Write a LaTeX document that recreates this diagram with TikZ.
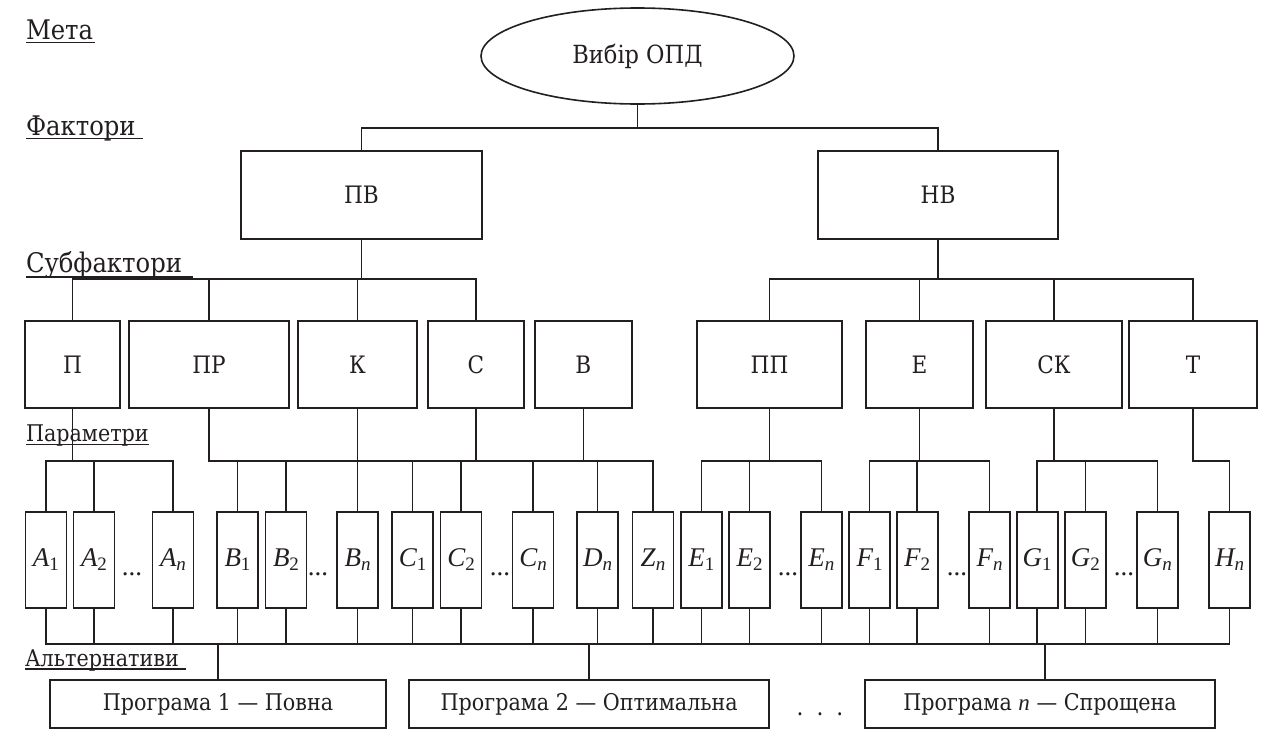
\documentclass[tikz,border=0pt]{standalone}
\usepackage{fontspec}
\setmainfont{DejaVu Serif Condensed}
\newfontfamily\tms{Liberation Serif}
\usetikzlibrary{shapes.geometric}
\definecolor{ink}{HTML}{231F20}
\newcommand\pl[2]{{\itshape #1}{\fontsize{19}{19}\selectfont\raisebox{-4pt}{#2}}}
\begin{document}
\begin{tikzpicture}[x=1pt,y=-1pt,
  every node/.style={inner sep=0pt, outer sep=0pt, text=ink},
  ln/.style={line width=1.6pt, draw=ink, line cap=rect},
  box/.style={draw=ink, line width=1.6pt, rectangle, font=\fontsize{24}{24}\selectfont},
  sbox/.style={box, minimum height=87pt},
  fbox/.style={box, minimum height=88pt},
  pbox/.style={box, minimum width=41pt, minimum height=96pt, font=\tms\fontsize{27}{27}\selectfont},
  prbox/.style={box, minimum height=48pt, font=\fontsize{23}{23}\selectfont},
  pdots/.style={anchor=base, font=\tms\fontsize{27}{27}\selectfont},
  lvl/.style={anchor=base west, font=\fontsize{27}{27}\selectfont},
  lvls/.style={anchor=base west, font=\fontsize{23}{23}\selectfont},
  ul/.style={line width=1.6pt, draw=ink}
]
\fill[white] (0,0) rectangle (1261,736);
\useasboundingbox (0,0) rectangle (1261,736);

% level labels
\node[lvl] (lm) at (26,39.5) {Мета};
\node[lvl] (lf) at (26,135) {Фактори};
\node[lvl] (ls) at (26,272) {Субфактори};
\node[lvls] (lp) at (26,441) {Параметри};
\node[lvls] (la) at (25,666) {Альтернативи};
\draw[ul] ([yshift=-3pt]lm.base west) -- ++(69,0);
\draw[ul] ([yshift=-3.5pt]lf.base west) -- ++(117,0);
\draw[ul] ([yshift=-5pt]ls.base west) -- ++(167,0);
\draw[ul] ([yshift=-3.5pt]lp.base west) -- ++(123,0);
\draw[ul] ([yshift=-3pt]la.base west) -- ++(161,0);

% goal
\node[draw=ink, line width=1.6pt, ellipse, minimum width=313pt, minimum height=96pt,
      font=\fontsize{25}{25}\selectfont] (goal) at (637.5,56) {Вибір ОПД};

% factors
\node[fbox, minimum width=241pt] (PV) at (361.5,195) {ПВ};
\node[fbox, minimum width=240pt] (NV) at (938,195) {НВ};

% subfactors
\node[sbox, minimum width=95pt]  (P)  at (72.5,364.5) {П};
\node[sbox, minimum width=160pt] (PR) at (209,364.5) {ПР};
\node[sbox, minimum width=119pt] (K)  at (357.5,364.5) {К};
\node[sbox, minimum width=96pt]  (S)  at (476,364.5) {С};
\node[sbox, minimum width=97pt]  (B)  at (583.3,364.5) {В};
\node[sbox, minimum width=145pt] (PP) at (769.5,364.5) {ПП};
\node[sbox, minimum width=107pt] (E)  at (919.5,364.5) {Е};
\node[sbox, minimum width=136pt] (SK) at (1054,364.5) {СК};
\node[sbox, minimum width=128pt] (T)  at (1193,364.5) {Т};

% parameters
\node[pbox] (A1) at (45.8,560) {\pl{A}{1}};
\node[pbox] (A2) at (94,560) {\pl{A}{2}};
\node[pbox] (An) at (173,560) {\pl{A}{\itshape n}};
\node[pbox] (B1) at (237.5,560) {\pl{B}{1}};
\node[pbox] (B2) at (286,560) {\pl{B}{2}};
\node[pbox] (Bn) at (357.5,560) {\pl{B}{\itshape n}};
\node[pbox] (C1) at (412.5,560) {\pl{C}{1}};
\node[pbox] (C2) at (461,560) {\pl{C}{2}};
\node[pbox] (Cn) at (533,560) {\pl{C}{\itshape n}};
\node[pbox] (Dn) at (597.5,560) {\pl{D}{\itshape n}};
\node[pbox] (Zn) at (653,560) {\pl{Z}{\itshape n}};
\node[pbox] (E1) at (701.3,560) {\pl{E}{1}};
\node[pbox] (E2) at (749.5,560) {\pl{E}{2}};
\node[pbox] (En) at (821.3,560) {\pl{E}{\itshape n}};
\node[pbox] (F1) at (869.5,560) {\pl{F}{1}};
\node[pbox] (F2) at (917.2,560) {\pl{F}{2}};
\node[pbox] (Fn) at (989.5,560) {\pl{F}{\itshape n}};
\node[pbox] (G1) at (1037.2,560) {\pl{G}{1}};
\node[pbox] (G2) at (1085.3,560) {\pl{G}{2}};
\node[pbox] (Gn) at (1157.3,560) {\pl{G}{\itshape n}};
\node[pbox] (Hn) at (1229.5,560) {\pl{H}{\itshape n}};

\node[pdots] (dA) at (132,575) {...};
\node[pdots] (dB) at (318,575) {...};
\node[pdots] (dC) at (500,575) {...};
\node[pdots] (dE) at (788,575) {...};
\node[pdots] (dF) at (957,575) {...};
\node[pdots] (dG) at (1124,575) {...};

% programs
\node[prbox, minimum width=336pt] (pr1) at (218,704) {Програма 1 — Повна};
\node[prbox, minimum width=360pt] (pr2) at (589.2,704) {Програма 2 — Оптимальна};
\node[prbox, minimum width=350pt] (pr3) at (1040,704) {Програма {\tms\itshape n} — Спрощена};
\node[anchor=base, font=\fontsize{24}{24}\selectfont] (pdots) at (820,715) {.\hspace{13pt}.\hspace{13pt}.};

% bus levels
\coordinate (yF) at (0,128);
\coordinate (yS) at (0,279);
\coordinate (yP) at (0,461);
\coordinate (yB) at (0,644);

% goal -> factors
\draw[ln] (goal.south) -- (goal.south |- yF);
\draw[ln] (PV.north) -- (PV.north |- yF) -- (NV.north |- yF) -- (NV.north);

% factors -> subfactors
\draw[ln] (PV.south) -- (PV.south |- yS);
\draw[ln] (P.north) -- (P.north |- yS) -- (S.north |- yS) -- (S.north);
\foreach \n in {PR,K} \draw[ln] (\n.north) -- (\n.north |- yS);
\draw[ln] (NV.south) -- (NV.south |- yS);
\draw[ln] (PP.north) -- (PP.north |- yS) -- (T.north |- yS) -- (T.north);
\foreach \n in {E,SK} \draw[ln] (\n.north) -- (\n.north |- yS);

% subfactors -> parameters
\draw[ln] (P.south) -- (P.south |- yP);
\draw[ln] (A1.north) -- (A1.north |- yP) -- (An.north |- yP) -- (An.north);
\draw[ln] (A2.north) -- (A2.north |- yP);
\draw[ln] (PR.south) -- (PR.south |- yP) -- (Zn.north |- yP) -- (Zn.north);
\foreach \n in {K,S,B} \draw[ln] (\n.south) -- (\n.south |- yP);
\foreach \n in {B1,B2,Bn,C1,C2,Cn,Dn} \draw[ln] (\n.north) -- (\n.north |- yP);
\draw[ln] (PP.south) -- (PP.south |- yP);
\draw[ln] (E1.north) -- (E1.north |- yP) -- (En.north |- yP) -- (En.north);
\draw[ln] (E2.north) -- (E2.north |- yP);
\draw[ln] (E.south) -- (E.south |- yP);
\draw[ln] (F1.north) -- (F1.north |- yP) -- (Fn.north |- yP) -- (Fn.north);
\draw[ln] (F2.north) -- (F2.north |- yP);
\draw[ln] (SK.south) -- (SK.south |- yP);
\draw[ln] (G1.north) -- (G1.north |- yP) -- (Gn.north |- yP) -- (Gn.north);
\draw[ln] (G2.north) -- (G2.north |- yP);
\draw[ln] (T.south) -- (T.south |- yP) -- (Hn.north |- yP) -- (Hn.north);

% parameters -> alternatives
\draw[ln] (A1.south) -- (A1.south |- yB) -- (Hn.south |- yB) -- (Hn.south);
\foreach \n in {A2,An,B1,B2,Bn,C1,C2,Cn,Dn,Zn,E1,E2,En,F1,F2,Fn,G1,G2,Gn}
  \draw[ln] (\n.south) -- (\n.south |- yB);
\draw[ln, line width=2.2pt] (pr1.north) -- (pr1.north |- yB);
\draw[ln, line width=2.2pt] (pr2.north) -- (pr2.north |- yB);
\draw[ln, line width=2.2pt] ([xshift=5pt]pr3.north) -- ([xshift=5pt]pr3.north |- yB);
\end{tikzpicture}
\end{document}
